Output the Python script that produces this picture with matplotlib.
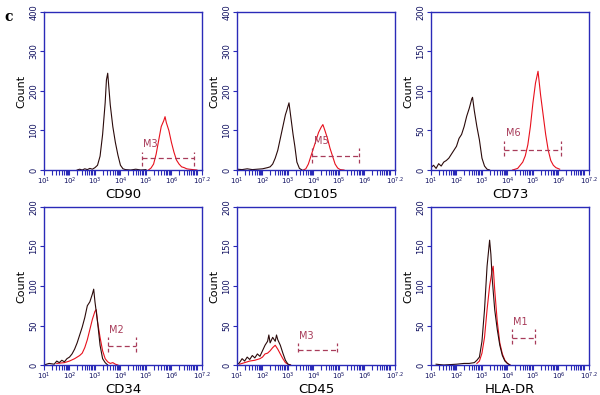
import numpy as np
import matplotlib
matplotlib.use("Agg")
import matplotlib.pyplot as plt

# marker names shown on each histogram
names = ["CD90", "CD105", "CD73", "CD34", "CD45", "HLA-DR"]
ymax = [400, 400, 200, 200, 200, 200]

# black (control) histograms, x in log10 decades
cd90_bx = [2.3, 2.4, 2.5, 2.6, 2.7, 2.8, 2.9, 3.0, 3.1, 3.2, 3.3, 3.4, 3.45, 3.5, 3.55, 3.6, 3.7, 3.8, 3.9, 4.0, 4.1, 4.2, 4.4, 4.6, 4.8, 5.0]
cd90_by = [0, 2, 0, 3, 1, 4, 2, 6, 12, 35, 90, 170, 228, 245, 205, 165, 110, 70, 38, 12, 3, 1, 0, 2, 0, 1]
cd105_bx = [1.0, 1.2, 1.4, 1.6, 1.8, 2.0, 2.2, 2.3, 2.4, 2.5, 2.6, 2.7, 2.8, 2.9, 2.95, 3.04, 3.1, 3.2, 3.27, 3.35, 3.45, 3.55]
cd105_by = [2, 1, 3, 1, 2, 3, 6, 8, 15, 30, 50, 80, 110, 140, 150, 170, 140, 90, 60, 20, 4, 0]
cd73_bx = [1.0, 1.1, 1.2, 1.3, 1.4, 1.5, 1.6, 1.7, 1.8, 1.9, 2.0, 2.1, 2.2, 2.3, 2.4, 2.5, 2.6, 2.63, 2.7, 2.8, 2.9, 3.0, 3.1, 3.2, 3.3]
cd73_by = [3, 6, 2, 8, 5, 10, 12, 15, 20, 25, 30, 40, 45, 55, 68, 78, 90, 92, 75, 55, 38, 15, 5, 1, 0]
cd34_bx = [1.0, 1.2, 1.4, 1.5, 1.6, 1.7, 1.8, 1.9, 2.0, 2.1, 2.2, 2.3, 2.4, 2.5, 2.6, 2.7, 2.8, 2.9, 2.95, 3.0, 3.1, 3.2, 3.3, 3.4, 3.5]
cd34_by = [0, 2, 1, 5, 3, 6, 4, 8, 10, 14, 20, 28, 38, 48, 60, 75, 80, 90, 96, 80, 55, 25, 8, 3, 0]
cd45_bx = [1.0, 1.1, 1.2, 1.3, 1.4, 1.5, 1.6, 1.7, 1.8, 1.9, 2.0, 2.1, 2.2, 2.25, 2.3, 2.4, 2.5, 2.55, 2.6, 2.7, 2.8, 2.9, 3.0, 3.1]
cd45_by = [0, 3, 8, 5, 10, 7, 12, 9, 14, 11, 18, 25, 30, 38, 28, 35, 30, 38, 32, 25, 15, 6, 1, 0]
hla_bx = [1.2, 1.5, 2.0, 2.3, 2.5, 2.7, 2.8, 2.9, 3.0, 3.1, 3.2, 3.3, 3.35, 3.4, 3.5, 3.6, 3.7, 3.8, 3.9, 4.0, 4.1]
hla_by = [1, 0, 1, 2, 2, 3, 6, 10, 30, 70, 125, 158, 140, 110, 70, 45, 25, 12, 5, 2, 0]

# red (stained) histograms
cd90_rx = [5.1, 5.2, 5.3, 5.4, 5.5, 5.6, 5.7, 5.75, 5.8, 5.9, 6.0, 6.1, 6.2, 6.3, 6.4, 6.5, 6.6, 6.7, 6.85, 7.0]
cd90_ry = [0, 5, 15, 40, 75, 110, 125, 135, 120, 100, 70, 45, 25, 15, 8, 6, 3, 2, 1, 0]
cd105_rx = [3.6, 3.7, 3.8, 3.9, 4.0, 4.1, 4.2, 4.3, 4.37, 4.45, 4.55, 4.65, 4.75, 4.85, 4.95, 5.05, 5.2]
cd105_ry = [0, 3, 15, 35, 55, 75, 95, 108, 115, 100, 80, 55, 35, 15, 5, 1, 0]
cd73_rx = [4.2, 4.4, 4.6, 4.7, 4.8, 4.9, 5.0, 5.1, 5.2, 5.25, 5.3, 5.4, 5.5, 5.6, 5.7, 5.8, 5.9, 6.05]
cd73_ry = [0, 2, 10, 18, 32, 55, 85, 110, 125, 110, 95, 70, 45, 25, 12, 6, 3, 1]
cd34_rx = [1.5, 1.8, 2.0, 2.2, 2.3, 2.4, 2.5, 2.6, 2.7, 2.8, 2.9, 3.0, 3.05, 3.1, 3.2, 3.3, 3.4, 3.5, 3.6, 3.7, 3.8, 3.9]
cd34_ry = [2, 3, 5, 8, 10, 12, 15, 22, 32, 45, 58, 68, 70, 55, 35, 18, 8, 4, 2, 3, 1, 0]
cd45_rx = [1.1, 1.3, 1.5, 1.7, 1.9, 2.0, 2.1, 2.2, 2.3, 2.4, 2.5, 2.6, 2.7, 2.8, 2.9, 3.0, 3.1]
cd45_ry = [1, 3, 5, 6, 8, 10, 14, 15, 18, 22, 25, 20, 14, 8, 3, 1, 0]
hla_rx = [2.8, 2.9, 3.0, 3.1, 3.2, 3.3, 3.4, 3.44, 3.5, 3.6, 3.7, 3.8, 3.9, 4.0, 4.1]
hla_ry = [2, 5, 15, 35, 70, 100, 120, 125, 95, 55, 28, 14, 6, 2, 0]

# gate markers: label, start, end (log10), level, cap low, cap high
gate_lab = ["M3", "M5", "M6", "M2", "M3", "M1"]
gate_x0 = [4.85, 3.96, 3.88, 3.51, 3.40, 4.16]
gate_x1 = [6.90, 5.78, 6.10, 4.60, 4.92, 5.08]
gate_y = [30, 35, 25, 24, 19, 34]
gate_lo = [11, 18, 18, 17, 16, 27]
gate_hi = [46, 56, 37, 35, 28, 45]

black_x = [cd90_bx, cd105_bx, cd73_bx, cd34_bx, cd45_bx, hla_bx]
black_y = [cd90_by, cd105_by, cd73_by, cd34_by, cd45_by, hla_by]
red_x = [cd90_rx, cd105_rx, cd73_rx, cd34_rx, cd45_rx, hla_rx]
red_y = [cd90_ry, cd105_ry, cd73_ry, cd34_ry, cd45_ry, hla_ry]

blue = "#2a2ab8"
gate_col = "#a83c5a"

fig = plt.figure(figsize=(6, 3.95), dpi=100)

lefts = [44, 237, 431]
tops = [12, 207]

for i in range(6):
    row = i // 3
    col = i % 3
    l = lefts[col] / 600
    b = (395 - tops[row] - 158) / 395
    ax = fig.add_axes([l, b, 158 / 600, 158 / 395])

    ax.plot(red_x[i], red_y[i], color="#e8101c", lw=0.8)
    ax.plot(black_x[i], black_y[i], color="#2a0a0a", lw=0.8)

    # gate bracket
    ax.plot([gate_x0[i], gate_x1[i]], [gate_y[i], gate_y[i]], color=gate_col,
            lw=0.9, dashes=(4, 2.5))
    for gx in (gate_x0[i], gate_x1[i]):
        ax.plot([gx, gx], [gate_lo[i], gate_hi[i]], color=gate_col, lw=0.9, dashes=(3, 2))
    ax.text(gate_x0[i] + 0.05, gate_hi[i] + ymax[i] * 0.015, gate_lab[i],
            color=gate_col, fontsize=7, ha="left", va="bottom")

    ax.set_xlim(1, 7.2)
    ax.set_ylim(0, ymax[i])
    ticks = [1, 2, 3, 4, 5, 6, 7.2]
    ax.set_xticks(ticks)
    ax.set_xticklabels([r"$10^{%s}$" % t for t in ["1", "2", "3", "4", "5", "6", "7.2"]],
                       fontsize=5, color="#101060")
    minors = []
    for d in range(1, 7):
        for k in range(2, 10):
            v = d + np.log10(k)
            if v < 7.2:
                minors.append(v)
    minors.append(7)
    ax.set_xticks(minors, minor=True)
    ax.set_yticks(np.linspace(0, ymax[i], 5))
    ax.set_yticklabels([str(int(v)) for v in np.linspace(0, ymax[i], 5)],
                       rotation=90, va="center", fontsize=6, color="#101060")
    ax.tick_params(axis="x", which="both", direction="out", length=3.5, width=0.8,
                   color=blue, pad=0.5)
    ax.tick_params(axis="y", direction="out", length=3, width=0.8, color=blue, pad=1)
    for s in ax.spines.values():
        s.set_color(blue)
        s.set_linewidth(1.0)
    ax.set_ylabel("Count", fontsize=8, labelpad=2)
    ax.set_xlabel(names[i], fontsize=9.5, labelpad=1)

fig.text(0.008, 0.975, "c", fontsize=10, fontweight="bold", family="serif", va="top")

fig.savefig("out.png", dpi=100)
